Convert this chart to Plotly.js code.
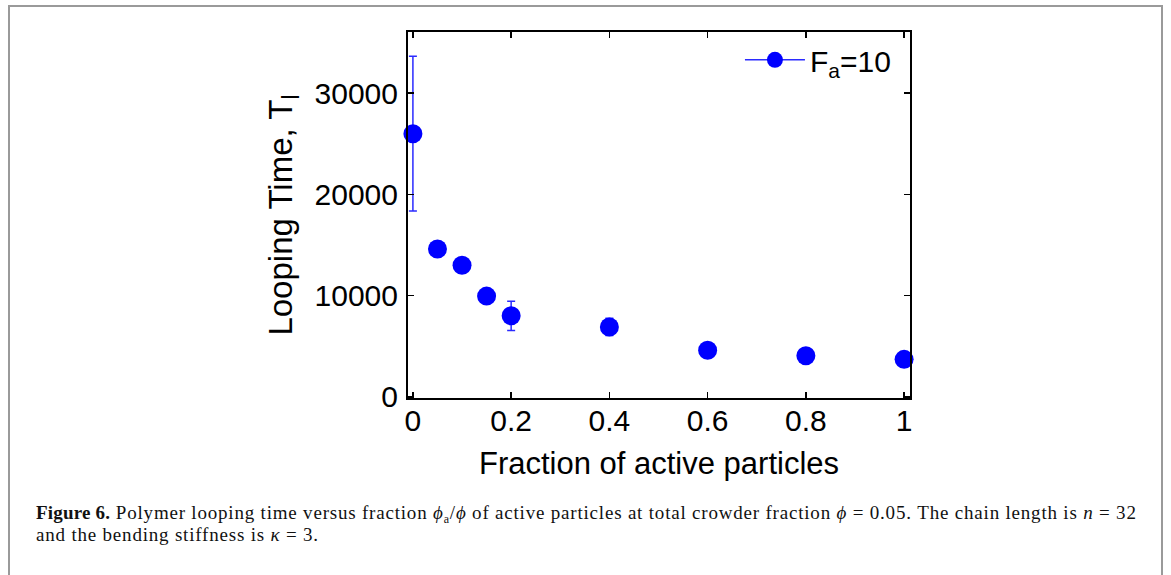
<!DOCTYPE html>
<html>
<head>
<meta charset="utf-8">
<script src="https://cdn.plot.ly/plotly-3.0.1.min.js"></script>
<style>
  html, body { margin: 0; padding: 0; background: #fff; }
  body { width: 1171px; height: 575px; position: relative; overflow: hidden; }
  #frame { position: absolute; left: 8px; top: 5px; width: 1155px; height: 600px;
           border: 2px solid #9a9a9a; box-sizing: border-box; }
  #chart { position: absolute; left: 0; top: 0; width: 1171px; height: 575px; }
  #caption { position: absolute; left: 36px; top: 502px; width: 1130px; white-space: nowrap;
             font-family: "Liberation Serif", "DejaVu Serif", serif; font-size: 19px;
             line-height: 22px; color: #111; letter-spacing: 0.8px; }
  #caption i { font-style: italic; }
  #caption sub { font-size: 12px; line-height: 0; vertical-align: -4px; }
</style>
</head>
<body>
<div id="frame"></div>
<div id="chart"></div>
<div id="caption"><b style="letter-spacing:0.2px">Figure 6.</b> Polymer looping time versus fraction <i>ϕ</i><sub>a</sub>/<i>ϕ</i> of active particles at total crowder fraction <i>ϕ</i> = 0.05. The chain length is <i>n</i> = 32<br>and the bending stiffness is <i>κ</i> = 3.</div>
<script>
const fraction = [0, 0.05, 0.1, 0.15, 0.2, 0.4, 0.6, 0.8, 1.0];
const loopingTime = [26000, 14600, 13000, 9950, 8000, 6900, 4600, 4050, 3700];
const loopingErr = [7650, 750, 300, 250, 1450, 850, 250, 200, 200];
const xTicks = [0, 0.2, 0.4, 0.6, 0.8, 1];
const xTickText = ["0", "0.2", "0.4", "0.6", "0.8", "1"];
const yTicks = [0, 10000, 20000, 30000];
const yTickText = ["0", "10000", "20000", "30000"];
const seriesName = "F<sub>a</sub>=10";

const blue = "#0000ff";
const traces = [
  {
    x: fraction, y: loopingTime, type: "scatter", mode: "markers",
    marker: { color: blue, size: 19, symbol: "circle" },
    error_y: { type: "data", array: loopingErr, visible: true, color: "#2b2bff", thickness: 1.5, width: 4 },
    showlegend: false, cliponaxis: false
  },
  {
    x: [null], y: [null], type: "scatter", mode: "lines+markers", name: seriesName,
    marker: { color: blue, size: 19 }, line: { color: "#2b2bff", width: 1.5 }
  }
];

const axisCommon = {
  showgrid: false, zeroline: false, showline: true, linecolor: "#000", linewidth: 2,
  mirror: "ticks", ticks: "inside", ticklen: 6, tickwidth: 1.5, tickcolor: "#000",
  tickfont: { family: "Liberation Sans, Arial, sans-serif", size: 30, color: "#000" }
};

const layout = {
  width: 1171, height: 575,
  margin: { l: 408, r: 261, t: 32, b: 177, pad: 0 },
  paper_bgcolor: "rgba(0,0,0,0)", plot_bgcolor: "#fff",
  font: { family: "Liberation Sans, Arial, sans-serif", color: "#000" },
  xaxis: Object.assign({}, axisCommon, {
    range: [-0.01, 1.012], tickvals: xTicks, ticktext: xTickText, ticklabelstandoff: -5,
    title: { text: "Fraction of active particles", font: { size: 31 }, standoff: 16 }
  }),
  yaxis: Object.assign({}, axisCommon, {
    range: [-120, 36050], tickvals: yTicks, ticktext: yTickText, ticklabelstandoff: 2,
    title: { text: "Looping Time, T<sub>l</sub>", font: { size: 33 }, standoff: 12 }
  }),
  legend: {
    x: 0.972, y: 0.995, xanchor: "right", yanchor: "top", bgcolor: "rgba(0,0,0,0)",
    font: { size: 30 }, itemwidth: 60
  },
  showlegend: true
};

Plotly.newPlot("chart", traces, layout, { displayModeBar: false, staticPlot: true });
</script>
</body>
</html>
